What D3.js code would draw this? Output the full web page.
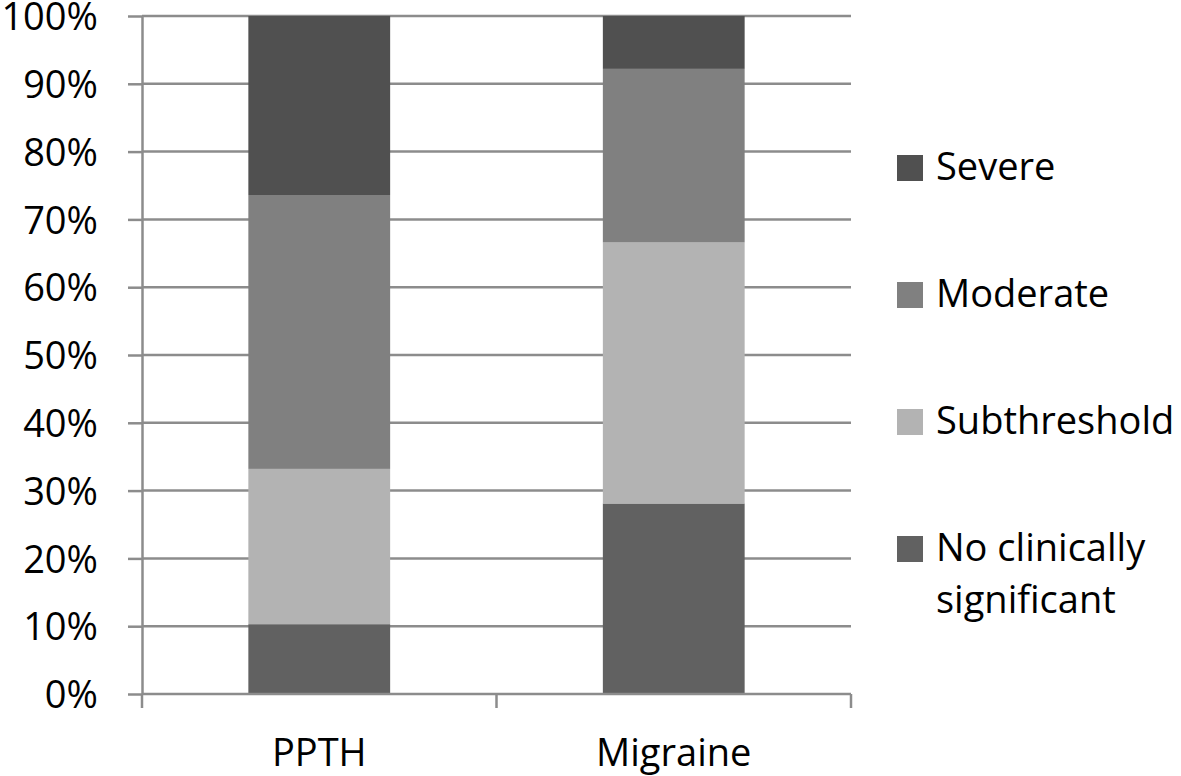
<!DOCTYPE html>
<html>
<head>
<meta charset="utf-8">
<script src="https://cdn.jsdelivr.net/npm/d3@7"></script>
<style>
	body { margin: 0; background: #fff; }
	text { font-family: "Open Sans", "Lato", sans-serif; fill: #000; }
</style>
</head>
<body>
<div id="chart"></div>
<script>
// data (percent of patients per severity group)
const categories = ["PPTH", "Migraine"];
const severityLevels = ["No clinically significant", "Subthreshold", "Moderate", "Severe"];
const noClinical = [10.3, 28.1];
const subthreshold = [22.9, 38.5];
const moderate = [40.4, 25.6];
const severe = [26.4, 7.8];
const yTicks = [0, 10, 20, 30, 40, 50, 60, 70, 80, 90, 100];

const colors = {
	"No clinically significant": "#616161",
	"Subthreshold": "#b3b3b3",
	"Moderate": "#808080",
	"Severe": "#505050"
};

const rows = categories.map((c, i) => ({
	category: c,
	"No clinically significant": noClinical[i],
	"Subthreshold": subthreshold[i],
	"Moderate": moderate[i],
	"Severe": severe[i]
}));

const width = 1181;
const height = 776;
const margin = {top: 16, right: 330, bottom: 82, left: 142};
const plotW = 851 - margin.left;
const plotH = 694 - margin.top;
const fontSize = "38px";

const svg = d3.select("#chart")
	.append("svg")
		.attr("width", width)
		.attr("height", height);

const g = svg.append("g")
	.attr("transform", `translate(${margin.left},${margin.top})`);

const x = d3.scaleBand()
	.domain(categories)
	.range([0, plotW])
	.paddingInner(0.6)
	.paddingOuter(0.3);

const y = d3.scaleLinear()
	.domain([0, 100])
	.range([plotH, 0]);

// gridlines
g.selectAll("line.grid")
	.data(yTicks.filter(d => d > 0))
	.join("line")
		.attr("class", "grid")
		.attr("x1", 0)
		.attr("x2", plotW)
		.attr("y1", d => y(d))
		.attr("y2", d => y(d))
		.attr("stroke", "#8c8c8c")
		.attr("stroke-width", 2.5);

// stacked bars
const stack = d3.stack().keys(severityLevels)(rows);
g.selectAll("g.layer")
	.data(stack)
	.join("g")
		.attr("class", "layer")
		.attr("fill", d => colors[d.key])
	.selectAll("rect")
	.data(d => d)
	.join("rect")
		.attr("x", d => x(d.data.category))
		.attr("y", d => y(d[1]))
		.attr("width", x.bandwidth())
		.attr("height", d => y(d[0]) - y(d[1]));

// y axis
const yAxis = g.append("g")
	.call(d3.axisLeft(y)
		.tickValues(yTicks)
		.tickFormat(d => d + "%")
		.tickSize(14)
		.tickSizeOuter(0)
		.tickPadding(30));
yAxis.select(".domain").attr("stroke", "#8c8c8c").attr("stroke-width", 2.5);
yAxis.selectAll(".tick line").attr("stroke", "#8c8c8c").attr("stroke-width", 2.5);
yAxis.selectAll(".tick text")
	.attr("font-size", fontSize)
	.attr("dy", "0.36em")
	.attr("fill", "#000");

// x axis
const xAxis = g.append("g")
	.attr("transform", `translate(0,${plotH})`);
xAxis.append("line")
	.attr("x1", 0)
	.attr("x2", plotW)
	.attr("stroke", "#8c8c8c")
	.attr("stroke-width", 2.5);
xAxis.selectAll("line.sep")
	.data([0, plotW / 2, plotW])
	.join("line")
		.attr("class", "sep")
		.attr("x1", d => d)
		.attr("x2", d => d)
		.attr("y1", 0)
		.attr("y2", 14)
		.attr("stroke", "#8c8c8c")
		.attr("stroke-width", 2.5);
xAxis.selectAll("text")
	.data(categories)
	.join("text")
		.attr("x", d => x(d) + x.bandwidth() / 2)
		.attr("y", 72)
		.attr("text-anchor", "middle")
		.attr("font-size", fontSize)
		.text(d => d);

// legend
const legendItems = [
	{key: "Severe", lines: ["Severe"]},
	{key: "Moderate", lines: ["Moderate"]},
	{key: "Subthreshold", lines: ["Subthreshold"]},
	{key: "No clinically significant", lines: ["No clinically", "significant"]}
];
const legend = svg.append("g")
	.attr("transform", "translate(897,155)");
const item = legend.selectAll("g")
	.data(legendItems)
	.join("g")
		.attr("transform", (d, i) => `translate(0,${i * 127})`);
item.append("rect")
	.attr("width", 26)
	.attr("height", 26)
	.attr("fill", d => colors[d.key]);
item.append("text")
	.attr("x", 39)
	.attr("y", 25)
	.attr("font-size", fontSize)
	.selectAll("tspan")
	.data(d => d.lines)
	.join("tspan")
		.attr("x", 39)
		.attr("dy", (d, i) => i === 0 ? 0 : 52)
		.text(d => d);
</script>
</body>
</html>
